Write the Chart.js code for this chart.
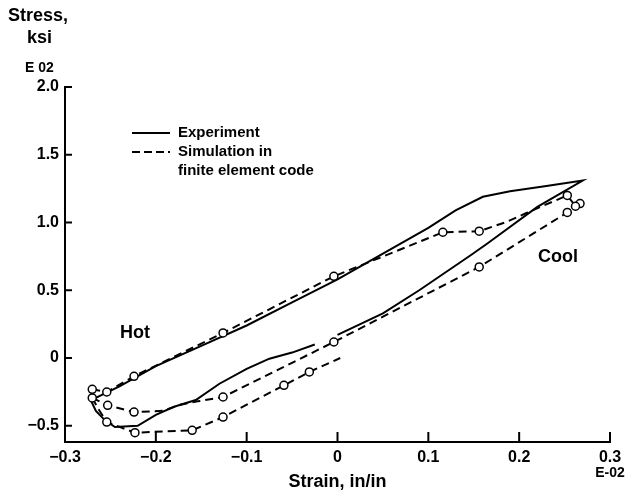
<!DOCTYPE html>
<html><head><meta charset="utf-8">
<script src="https://cdn.jsdelivr.net/npm/chart.js@4.4.0/dist/chart.umd.min.js"></script>
<style>html,body{margin:0;padding:0;background:#fff;}#wrap{position:relative;width:629px;height:495px;}</style>
</head><body><div id="wrap"><canvas id="c" width="629" height="495"></canvas></div>
<script>
// Tick values and labels
const xTicks = [-0.3, -0.2, -0.1, 0, 0.1, 0.2, 0.3];
const xTickLabels = ['−0.3', '−0.2', '−0.1', '0', '0.1', '0.2', '0.3'];
const yTicks = [-0.5, 0, 0.5, 1.0, 1.5, 2.0];
const yTickLabels = ['−0.5', '0', '0.5', '1.0', '1.5', '2.0'];

// Experiment (solid) - one open loop
const expX = [-0.025, -0.05, -0.075, -0.10, -0.13, -0.156, -0.18, -0.20, -0.22, -0.245, -0.256, -0.266, -0.271, -0.265,
  -0.24, -0.20, -0.15, -0.10, -0.05, 0.0, 0.05, 0.10, 0.13, 0.16, 0.19, 0.23, 0.27,
  0.22, 0.165, 0.147, 0.09, 0.05, 0.0];
const expY = [0.10, 0.04, -0.005, -0.08, -0.19, -0.31, -0.36, -0.42, -0.50, -0.51, -0.46, -0.39, -0.32, -0.29,
  -0.21, -0.06, 0.09, 0.24, 0.41, 0.58, 0.77, 0.96, 1.09, 1.19, 1.23, 1.27, 1.31,
  1.115, 0.845, 0.76, 0.50, 0.33, 0.17];

// Simulation (dashed) - upper branch
const simUpX = [-0.27, -0.254, -0.224, -0.126, -0.004, 0.116, 0.156, 0.17, 0.186, 0.208, 0.253, 0.262];
const simUpY = [-0.231, -0.251, -0.135, 0.185, 0.603, 0.928, 0.936, 0.968, 1.004, 1.07, 1.20, 1.12];
const simUpMark = [1, 1, 1, 1, 1, 1, 1, 0, 0, 0, 1, 1];

// Simulation (dashed) - middle branch
const simMidX = [-0.27, -0.253, -0.224, -0.192, -0.173, -0.154, -0.126, -0.004, 0.156, 0.253, 0.267];
const simMidY = [-0.295, -0.349, -0.399, -0.39, -0.345, -0.32, -0.288, 0.118, 0.672, 1.074, 1.14];
const simMidMark = [1, 1, 1, 0, 0, 0, 1, 1, 1, 1, 1];

// Simulation (dashed) - lower branch
const simLowX = [-0.27, -0.262, -0.254, -0.223, -0.16, -0.126, -0.059, -0.031, 0.003];
const simLowY = [-0.295, -0.39, -0.473, -0.551, -0.534, -0.436, -0.202, -0.103, 0.0];
const simLowMark = [0, 0, 1, 1, 1, 1, 1, 1, 0];

const pts = (xs, ys) => xs.map((x, i) => ({x: x, y: ys[i]}));
const FONT = '"Liberation Sans", Arial, Helvetica, sans-serif';

function simSet(xs, ys, marks) {
  return {
    data: pts(xs, ys), showLine: true, borderColor: '#000', borderWidth: 2,
    borderDash: [8, 5], pointRadius: marks.map(m => m ? 4 : 0),
    pointBackgroundColor: '#fff', pointBorderColor: '#000', pointBorderWidth: 1.5,
    pointStyle: 'circle', tension: 0
  };
}

const decor = {
  id: 'decor',
  afterDraw(chart) {
    const ctx = chart.ctx, a = chart.chartArea;
    const xs = chart.scales.x, ys = chart.scales.y;
    ctx.save();
    ctx.strokeStyle = '#000'; ctx.lineWidth = 2; ctx.setLineDash([]);
    xTicks.forEach(v => { const p = xs.getPixelForValue(v); ctx.beginPath(); ctx.moveTo(p, a.bottom); ctx.lineTo(p, a.bottom - 10); ctx.stroke(); });
    yTicks.forEach(v => { const p = ys.getPixelForValue(v); ctx.beginPath(); ctx.moveTo(a.left, p); ctx.lineTo(a.left + 7, p); ctx.stroke(); });
    ctx.fillStyle = '#000';
    ctx.textBaseline = 'alphabetic'; ctx.textAlign = 'left';
    ctx.font = 'bold 18px ' + FONT;
    ctx.fillText('Stress,', 8, 21);
    ctx.fillText('ksi', 27, 43);
    ctx.font = 'bold 14px ' + FONT;
    ctx.fillText('E 02', 25, 72);
    ctx.font = 'bold 18px ' + FONT;
    ctx.fillText('Hot', 120, 338);
    ctx.fillText('Cool', 538, 262);
    ctx.font = 'bold 14px ' + FONT;
    ctx.textAlign = 'center';
    ctx.fillText('E-02', xs.getPixelForValue(0.3), 477);
    // legend
    ctx.lineWidth = 2;
    ctx.beginPath(); ctx.moveTo(132, 133); ctx.lineTo(170, 133); ctx.stroke();
    ctx.setLineDash([8, 4]);
    ctx.beginPath(); ctx.moveTo(132, 152); ctx.lineTo(170, 152); ctx.stroke();
    ctx.setLineDash([]);
    ctx.font = 'bold 15px ' + FONT; ctx.textAlign = 'left'; ctx.textBaseline = 'middle';
    ctx.fillText('Experiment', 178, 133);
    ctx.fillText('Simulation in', 178, 152);
    ctx.fillText('finite element code', 178, 171);
    ctx.restore();
  }
};

new Chart(document.getElementById('c'), {
  type: 'scatter',
  data: {
    datasets: [
      simSet(simUpX, simUpY, simUpMark),
      simSet(simMidX, simMidY, simMidMark),
      simSet(simLowX, simLowY, simLowMark),
      { data: pts(expX, expY), showLine: true, borderColor: '#000', borderWidth: 2, pointRadius: 0, tension: 0 }
    ]
  },
  options: {
    responsive: false, animation: false, devicePixelRatio: 1,
    layout: { padding: { top: 87, right: 19, left: 0, bottom: 0 } },
    plugins: { legend: { display: false }, tooltip: { enabled: false } },
    scales: {
      x: {
        type: 'linear', min: -0.3, max: 0.3,
        afterBuildTicks: s => { s.ticks = xTicks.map(v => ({value: v})); },
        afterFit: s => { s.height = 53; },
        grid: { display: false, drawTicks: false },
        border: { display: true, color: '#000', width: 2 },
        ticks: { autoSkip: false, maxRotation: 0, padding: 6, color: '#000', font: { family: FONT, size: 16, weight: 'bold' },
          callback: (v, i) => xTickLabels[i] },
        title: { display: true, text: 'Strain, in/in', color: '#000', font: { family: FONT, size: 18, weight: 'bold' }, padding: { top: 0, bottom: 2 } }
      },
      y: {
        type: 'linear', min: -0.62, max: 2.0,
        afterBuildTicks: s => { s.ticks = yTicks.map(v => ({value: v})); },
        afterFit: s => { s.width = 65; },
        grid: { display: false, drawTicks: false },
        border: { display: true, color: '#000', width: 2 },
        ticks: { autoSkip: false, padding: 6, color: '#000', font: { family: FONT, size: 16, weight: 'bold' },
          callback: (v, i) => yTickLabels[i] }
      }
    }
  },
  plugins: [decor]
});
</script>
</body></html>
